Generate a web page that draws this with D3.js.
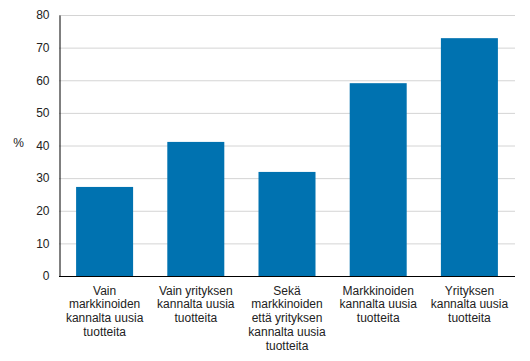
<!DOCTYPE html>
<html><head><meta charset="utf-8">
<script src="https://cdn.jsdelivr.net/npm/d3@7"></script>
<style>body{margin:0;background:#fff}svg{display:block}text{font-family:"Liberation Sans",Arial,sans-serif;font-size:12px;fill:#222}</style>
</head><body><svg id="c" width="530" height="361"></svg>
<script>
const categories = [
  ["Vain","markkinoiden","kannalta uusia","tuotteita"],
  ["Vain yrityksen","kannalta uusia","tuotteita"],
  ["Sekä","markkinoiden","että yrityksen","kannalta uusia","tuotteita"],
  ["Markkinoiden","kannalta uusia","tuotteita"],
  ["Yrityksen","kannalta uusia","tuotteita"]
];
const values = [27.3, 41.1, 31.9, 59.1, 72.9];
const yTicks = [0,10,20,30,40,50,60,70,80];
const yLabel = "%";

const svg = d3.select("#c");
const m = {l:59, r:515, t:15, b:276};
const x = d3.scaleBand().domain(d3.range(values.length)).range([m.l, m.r]).paddingInner(0.375).paddingOuter(0.1875);
const y = d3.scaleLinear().domain([0,80]).range([m.b, m.t]);

svg.append("g").selectAll("line").data(yTicks.filter(d=>d>0)).join("line")
  .attr("x1", m.l).attr("x2", m.r).attr("y1", d=>y(d)+0.5).attr("y2", d=>y(d)+0.5)
  .attr("stroke", "#d4d4d4").attr("stroke-width", 1);

svg.append("g").selectAll("rect").data(values).join("rect")
  .attr("x", (d,i)=>x(i)).attr("width", x.bandwidth())
  .attr("y", d=>y(d)).attr("height", d=>y(0)-y(d)).attr("fill", "#0072b0");

const ya = svg.append("g").attr("transform", `translate(${m.l+0.5},0)`)
  .call(d3.axisLeft(y).tickValues(yTicks).tickSize(0).tickPadding(10));
ya.select(".domain").attr("stroke", "#000");
ya.selectAll("text").style("font-family", '"Liberation Sans",Arial,sans-serif').style("font-size", "12px").attr("fill", "#222");

svg.append("line").attr("x1", m.l).attr("x2", m.r).attr("y1", m.b+0.5).attr("y2", m.b+0.5).attr("stroke", "#000");

svg.append("text").attr("x", 18.5).attr("y", 147).attr("text-anchor","middle").text(yLabel);

const lab = svg.append("g").selectAll("text").data(categories).join("text")
  .attr("text-anchor","middle")
  .attr("transform", (d,i)=>`translate(${x(i)+x.bandwidth()/2},${m.b+18.5})`);
lab.selectAll("tspan").data(d=>d).join("tspan")
  .attr("x", 0).attr("dy", (d,i)=>i===0?0:13.8).text(d=>d);
</script></body></html>
